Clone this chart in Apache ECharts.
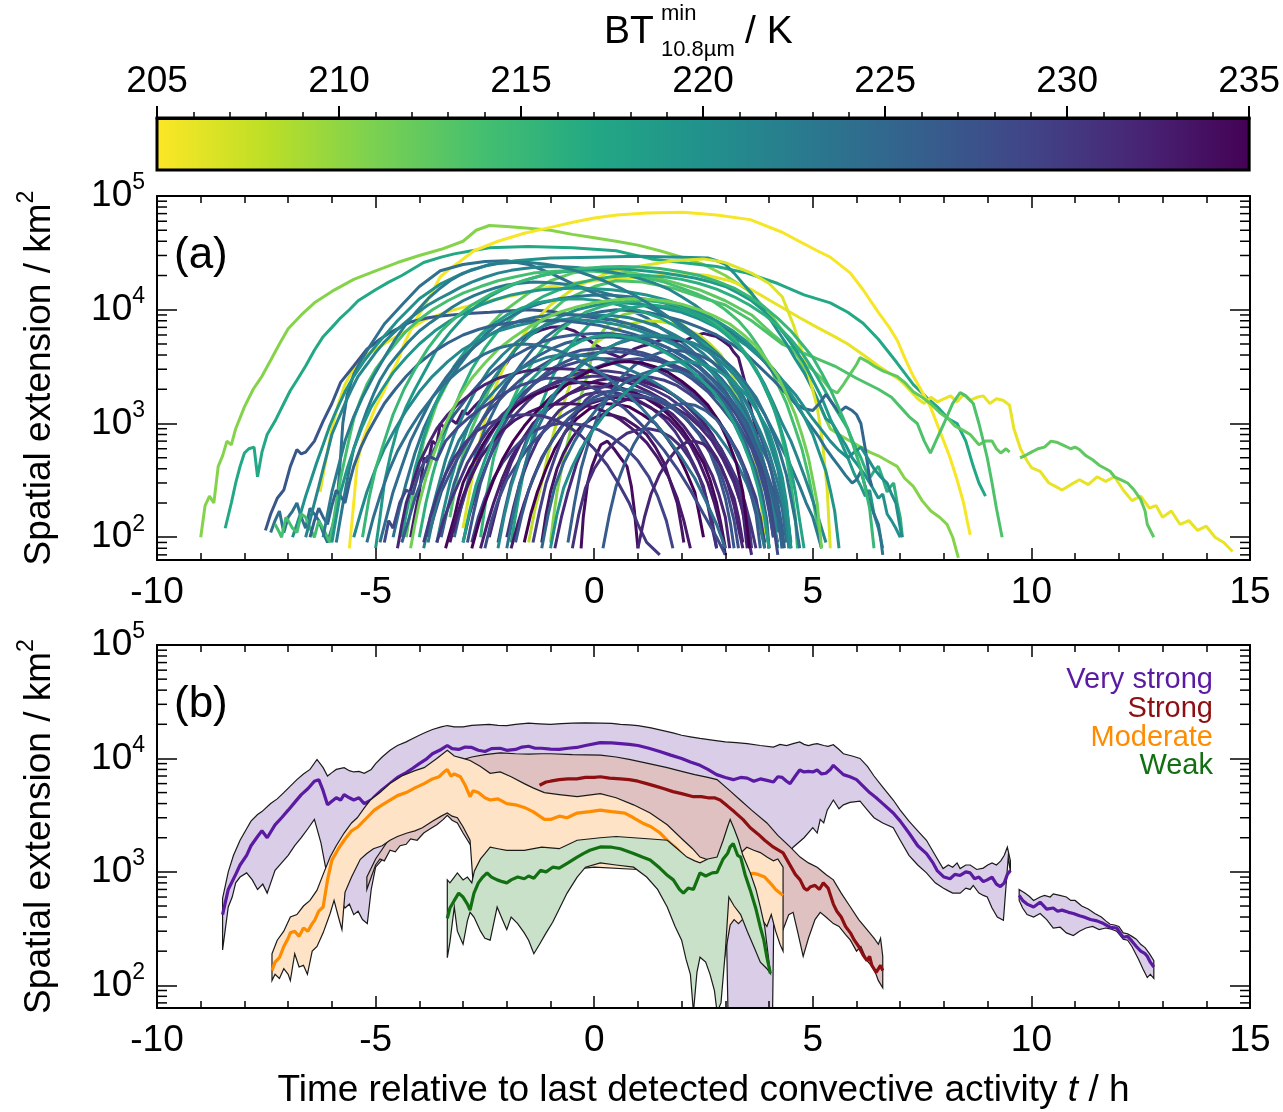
<!DOCTYPE html>
<html><head><meta charset="utf-8">
<script src="https://cdn.jsdelivr.net/npm/echarts@6/dist/echarts.min.js"></script>
<style>html,body{margin:0;padding:0;background:#fff}#chart{width:1283px;height:1112px}</style>
</head><body><div id="chart"></div>
<script>
// ---------------- DATA ----------------
const btTicks = [205, 210, 215, 220, 225, 230, 235];
const timeTicks = [-10, -5, 0, 5, 10, 15];
const areaMin = 63.0957, areaMax = 100000;

// Panel (a): brightness temperature of each track and its time series [t (h), area (km^2)]
const tracksBT = [210.5,217,205.3,206,212.5,213.5,227,224,220,233,206.5,208,210.5,214,221.5,223,219,216,225,223.5,220.5,218.5,222,215.5,226,224.5,217.5,221,230,232,234,233.5,231,229,228,232.5,235,227.5,230.5,234.5,226.5,229.5,231.5,228.5,233,226,224,225.5,232,219.5,211.5,215,222.5,
  228,233,225,231,223,229,235,227,221.5,226.5,230,218,232,224,220,228.5];
const tracks = [
[[-9.0,100],[-8.9,190],[-8.8,230],[-8.7,200],[-8.6,420],[-8.5,520],[-8.4,700],[-8.3,650],[-8.2,900],[-8.0,1400],[-7.8,2000],[-7.6,2600],[-7.4,3600],[-7.2,5000],[-7.0,6800],[-6.7,9000],[-6.4,11500],[-6.0,14500],[-5.5,18500],[-5.0,22000],[-4.5,26000],[-4.0,30000],[-3.5,34000],[-3.0,40000],[-2.7,50000],[-2.4,55000],[-2.0,54000],[-1.5,52000],[-1.0,50000],[-0.5,46000],[0,43000],[0.5,40000],[1.0,37000],[1.5,33000],[2.0,29000],[2.5,25000],[3.0,20000],[3.5,15000],[4.0,9500],[4.5,5200],[4.8,3000],[5.1,1600],[5.4,900],[5.6,800],[5.8,720],[6.1,620],[6.3,560],[6.5,520],[6.7,470],[6.93,420],[7.1,330],[7.3,280],[7.5,210],[7.7,170],[7.9,150],[8.07,130],[8.2,100],[8.33,66]],
[[-8.44,120],[-8.3,200],[-8.2,300],[-8.1,420],[-8.0,550],[-7.9,600],[-7.78,620],[-7.7,340],[-7.6,560],[-7.48,800],[-7.3,1050],[-7.1,1500],[-6.95,1950],[-6.8,2400],[-6.6,3200],[-6.4,4400],[-6.2,5800],[-6.0,7000],[-5.8,8500],[-5.6,10000],[-5.4,12000],[-5.0,15000],[-4.7,17500],[-4.4,20000],[-3.9,26000],[-3.5,29000],[-3.2,31000],[-2.8,33000],[-2.4,35000],[-1.5,36000],[-0.5,35000],[0.5,33000],[1.3,28000],[2.0,26000],[2.8,24000],[3.5,21000],[4.2,17000],[4.8,13500],[5.4,11500],[5.8,9500],[6.15,7600],[6.5,5500],[6.93,3400],[7.3,2200],[7.6,1700],[7.85,1400],[8.1,1100],[8.3,1000],[8.5,700],[8.67,420],[8.8,300],[8.95,230]],
[[-5.6,80],[-5.5,200],[-5.42,450],[-5.3,700],[-5.2,900],[-5.0,1400],[-4.8,1950],[-4.65,2700],[-4.5,3500],[-4.35,5000],[-4.2,6600],[-4.05,8500],[-3.9,10500],[-3.7,14500],[-3.52,19500],[-3.3,23000],[-3.1,26000],[-2.75,33000],[-2.2,40000],[-1.6,47000],[-1.0,53000],[-0.46,59000],[0.0,64000],[0.52,68000],[1.2,71000],[2.04,72000],[2.8,68000],[3.57,62000],[4.3,48000],[4.8,38000],[5.1,33000],[5.4,29000],[5.86,21000],[6.15,15000],[6.5,9500],[6.75,7000],[6.93,5400],[7.1,3800],[7.3,2600],[7.5,1900],[7.69,1400],[7.9,870],[8.14,500],[8.3,320],[8.45,200],[8.53,140],[8.6,105]],
[[-6.27,250],[-6.15,450],[-6.0,900],[-5.85,1500],[-5.7,2200],[-5.55,2800],[-5.42,3400],[-5.2,4000],[-5.0,4500],[-4.67,5400],[-4.2,6800],[-3.89,8100],[-3.4,9500],[-3.0,10500],[-2.38,12000],[-1.8,13500],[-1.0,16000],[-0.3,17500],[0.5,18500],[1.3,19500],[2.04,21000],[2.6,20000],[3.1,18000],[3.6,15000],[4.2,11000],[4.7,8500],[5.1,7000],[5.5,5800],[5.8,5000],[6.2,3900],[6.5,3200],[6.8,2700],[7.0,2400],[7.2,2000],[7.4,1650],[7.55,1500],[7.7,1700],[7.85,1550],[8.0,1650],[8.15,1750],[8.3,1550],[8.45,1800],[8.6,1600],[8.75,1700],[8.9,1750],[9.05,1500],[9.2,1650],[9.35,1600],[9.5,1450],[9.6,900],[9.75,600],[9.9,470],[10.0,410],[10.2,380],[10.4,300],[10.55,280],[10.7,260],[10.9,290],[11.1,320],[11.3,290],[11.5,340],[11.7,310],[11.9,340],[12.1,260],[12.3,210],[12.5,230],[12.7,180],[12.85,190],[13.0,150],[13.2,170],[13.4,130],[13.6,140],[13.8,115],[14.0,125],[14.2,100],[14.4,90],[14.6,75]],
[[-4.3,100],[-4.1,300],[-3.9,700],[-3.6,1500],[-3.2,3000],[-2.7,5500],[-2.1,9500],[-1.5,14000],[-1.0,18000],[-0.5,21000],[0,22500],[0.6,22000],[1.2,20000],[1.8,17500],[2.4,15000],[3.0,12000],[3.6,9000],[4.1,6000],[4.5,4500],[4.9,3200],[5.2,2500],[5.4,2000],[5.56,1860],[5.7,2200],[5.85,2700],[6.0,3300],[6.08,3800],[6.25,3500],[6.4,3200],[6.6,2900],[6.93,2600],[7.1,2300],[7.3,1900],[7.5,1700],[7.69,1500],[7.9,1250],[8.1,1100],[8.25,950],[8.44,870],[8.6,800],[8.8,650],[8.95,700],[9.1,700],[9.2,600],[9.3,550],[9.42,600],[9.5,560],[9.62,'-'],[9.74,500],[9.85,520],[10.0,560],[10.15,600],[10.3,620],[10.45,700],[10.6,680],[10.75,640],[10.9,600],[11.0,620],[11.1,590],[11.25,520],[11.4,480],[11.55,430],[11.7,400],[11.8,380],[11.9,340],[12.05,320],[12.2,300],[12.35,260],[12.5,215],[12.6,170],[12.65,130],[12.8,100]],
[[-3.3,150],[-3.1,400],[-2.8,900],[-2.4,2000],[-1.9,4000],[-1.3,7500],[-0.7,12000],[0,16000],[0.5,18000],[1.1,17500],[1.8,15500],[2.4,13000],[3.0,11000],[3.6,8000],[4.3,5000],[4.9,4000],[5.5,3200],[6.0,2500],[6.5,2000],[6.8,1700],[7.0,1400],[7.2,1150],[7.39,1000],[7.55,700],[7.69,550],[7.85,750],[8.0,1000],[8.2,1500],[8.37,1870],[8.5,1750],[8.67,1500],[8.8,1000],[8.9,700],[8.99,500],[9.1,300],[9.2,180],[9.33,100]],
[[-7.52,115],[-7.4,160],[-7.25,220],[-7.1,260],[-6.95,420],[-6.8,590],[-6.7,540],[-6.6,560],[-6.4,700],[-6.2,1050],[-6.0,1500],[-5.8,2300],[-5.5,3200],[-5.2,4500],[-4.9,5500],[-4.67,6300],[-4.2,7800],[-3.8,8500],[-3.5,8800],[-3.0,9200],[-2.38,9500],[-1.9,9800],[-1.5,10000],[-1.0,9700],[-0.5,9000],[0,8500],[0.5,8000],[1.0,7000],[1.5,6000],[2.0,4800],[2.5,3500],[2.9,2500],[3.2,1800],[3.5,1100],[3.7,700],[3.9,420],[4.1,250],[4.2,150],[4.3,90]],
[[-7.4,110],[-7.3,140],[-7.2,170],[-7.1,110],[-7.0,150],[-6.9,170],[-6.8,200],[-6.7,150],[-6.6,120],[-6.5,180],[-6.4,160],[-6.3,140],[-6.2,110],[-6.1,90],[-6.0,120],[-5.9,160],[-5.82,400],[-5.75,1000],[-5.65,1800],[-5.5,2700],[-5.35,3500],[-5.1,5000],[-4.8,7500],[-4.4,11000],[-4.0,16000],[-3.52,22000],[-3.0,25000],[-2.5,26500],[-2.0,27000],[-1.5,25000],[-1.0,21000],[-0.5,17000],[0,14000],[0.4,12000],[0.8,10000],[1.2,8500],[1.5,7000],[1.9,5600],[2.2,4500],[2.5,3500],[2.8,2500],[3.05,1800],[3.3,1200],[3.5,800],[3.7,500],[3.85,320],[4.0,200],[4.1,130],[4.2,90]],
[[-6.9,100],[-6.8,130],[-6.7,170],[-6.6,230],[-6.5,300],[-6.35,450],[-6.2,650],[-6.05,950],[-5.9,1300],[-5.7,1900],[-5.5,2600],[-5.25,3600],[-5.0,4800],[-4.5,8000],[-4.0,12500],[-3.5,17000],[-3.0,21000],[-2.4,25000],[-1.8,27000],[-1.0,28500],[0,29000],[1.0,29500],[2.0,29000],[2.6,28500],[2.8,27000],[3.0,25000],[3.2,21000],[3.4,17000],[3.6,14000],[3.8,11000],[4.0,8500],[4.2,6500],[4.4,5000],[4.6,3700],[4.8,2800],[5.0,2000],[5.15,1500],[5.3,1100],[5.45,1000],[5.6,800],[5.75,650],[5.9,500],[6.05,420],[6.2,350],[6.35,280],[6.5,220],[6.6,240],[6.7,160],[6.8,140],[6.9,120],[7.0,100]],
[[-4.2,100],[-4.1,160],[-4.0,250],[-3.89,500],[-3.8,450],[-3.7,700],[-3.6,650],[-3.52,1000],[-3.4,900],[-3.3,1100],[-3.15,1000],[-3.0,1300],[-2.9,1200],[-2.75,1400],[-2.6,1600],[-2.5,1900],[-2.35,2300],[-2.2,2800],[-2.0,3400],[-1.8,4500],[-1.6,5500],[-1.4,6200],[-1.23,6600],[-1.0,7000],[-0.8,7100],[-0.6,6800],[-0.45,6500],[-0.3,6000],[-0.15,5500],[0,5000],[0.15,4600],[0.3,4200],[0.45,4000],[0.6,3800],[0.75,4100],[0.9,4500],[1.1,4800],[1.3,5000],[1.5,5400],[1.7,5600],[1.9,5300],[2.1,5400],[2.3,5900],[2.5,6200],[2.65,6000],[2.8,5800],[2.95,5300],[3.1,4800],[3.2,4200],[3.3,3800],[3.45,2300],[3.57,1400],[3.7,900],[3.8,500],[3.9,300],[4.0,180],[4.1,100]],
[[-3.0,120],[-2.85,250],[-2.7,500],[-2.55,900],[-2.4,1500],[-2.2,2400],[-2.0,3500],[-1.75,5000],[-1.5,7000],[-1.0,11000],[-0.4,16000],[0.3,21000],[1.0,24000],[1.8,27000],[2.5,28000],[3.0,26000],[3.6,21000],[4.0,17000],[4.3,13000],[4.55,7500],[4.8,3800],[4.95,2300],[5.1,1400],[5.22,700],[5.33,260],[5.4,80]],
[[-1.5,90],[-1.35,180],[-1.2,300],[-1.05,550],[-0.9,900],[-0.7,1500],[-0.5,2500],[-0.25,3600],[0,5000],[0.3,6000],[0.6,7000],[0.9,7600],[1.2,8000],[1.5,7900],[1.8,7500],[2.1,6800],[2.4,6000],[2.65,5000],[2.9,4000],[3.1,3000],[3.3,2000],[3.45,1200],[3.6,700],[3.7,400],[3.8,250],[3.9,90]],
[[-1.0,90],[-0.92,160],[-0.85,250],[-0.72,450],[-0.6,700],[-0.45,1200],[-0.25,2000],[-0.1,3200],[0,5000],[0.2,6500],[0.4,8000],[0.65,9000],[0.9,9500],[1.2,9400],[1.5,9000],[1.75,8300],[2.0,7500],[2.25,6200],[2.5,5000],[2.75,3800],[3.0,2800],[3.2,1900],[3.4,1300],[3.55,850],[3.7,500],[3.8,300],[3.9,150],[4.0,80]],
[[-7.3,130],[-7.2,110],[-7.15,100],[-7.05,150],[-7.0,140],[-6.9,120],[-6.8,110],[-6.7,160],[-6.6,150],[-6.5,120],[-6.4,100],[-6.3,140],[-6.2,120],[-6.05,90],[-5.95,150],[-5.9,200],[-5.8,330],[-5.7,500],[-5.6,750],[-5.5,1100],[-5.35,1600],[-5.2,2200],[-5.0,3000],[-4.8,3800],[-4.55,5000],[-4.3,6500],[-4.0,8200],[-3.7,10000],[-3.35,12000],[-3.0,14000],[-2.6,16000],[-2.2,18000],[-1.8,19500],[-1.4,21000],[-0.9,21800],[-0.5,22000],[0,21800],[0.4,21000],[0.8,20000],[1.2,19000],[1.6,17500],[2.0,15500],[2.35,13800],[2.7,12000],[3.0,10000],[3.3,8000],[3.55,6200],[3.8,4500],[4.0,3300],[4.2,2200],[4.4,1500],[4.6,900],[4.75,600],[4.9,350],[5.0,220],[5.1,130],[5.2,80]],
[[-6.6,100],[-6.5,140],[-6.4,200],[-6.3,280],[-6.2,400],[-6.1,560],[-6.0,800],[-5.85,1100],[-5.7,1500],[-5.55,2000],[-5.4,2600],[-5.2,3300],[-5.0,4200],[-4.8,5200],[-4.6,6200],[-4.4,7300],[-4.2,8500],[-4.0,9700],[-3.8,11000],[-3.55,12500],[-3.3,14000],[-3.05,15800],[-2.8,17500],[-2.5,19300],[-2.2,21000],[-1.9,22200],[-1.6,23000],[-1.3,23700],[-1.0,24000],[-0.7,23900],[-0.4,23500],[-0.1,22800],[0.2,22000],[0.5,21000],[0.8,20000],[1.1,18500],[1.4,17000],[1.7,15200],[2.0,13000],[2.3,11000],[2.6,9000],[2.9,7200],[3.2,5500],[3.45,4200],[3.7,3000],[3.9,2200],[4.1,1500],[4.3,1000],[4.5,700],[4.65,500],[4.8,350],[4.95,240],[5.1,160],[5.2,120],[5.3,90]],
[[-5.9,90],[-5.8,150],[-5.7,250],[-5.6,400],[-5.5,600],[-5.35,900],[-5.2,1300],[-5.05,1800],[-4.9,2400],[-4.7,3200],[-4.5,4000],[-4.25,5200],[-4.0,6500],[-3.75,7700],[-3.5,9000],[-3.25,10500],[-3.0,12000],[-2.75,13300],[-2.5,14500],[-2.25,15600],[-2.0,16500],[-1.7,17100],[-1.4,17500],[-1.1,17400],[-0.8,17000],[-0.5,16400],[-0.2,15500],[0.1,14500],[0.4,13500],[0.7,12500],[1.0,11500],[1.3,10300],[1.6,9000],[1.9,7800],[2.2,6500],[2.5,5300],[2.8,4200],[3.1,3200],[3.4,2400],[3.65,1700],[3.9,1200],[4.1,850],[4.3,600],[4.5,420],[4.7,280],[4.85,200],[5.0,150],[5.1,110],[5.2,80]],
[[-5.0,80],[-4.9,150],[-4.8,300],[-4.65,550],[-4.5,900],[-4.3,1400],[-4.1,2000],[-3.85,3000],[-3.6,4500],[-3.3,6300],[-3.0,8500],[-2.7,10700],[-2.4,13000],[-2.1,15000],[-1.8,17000],[-1.5,18600],[-1.2,20000],[-0.85,21200],[-0.5,22000],[-0.15,22600],[0.2,23000],[0.55,22900],[0.9,22500],[1.25,21800],[1.6,21000],[1.95,20000],[2.3,19000],[2.65,17600],[3.0,16000],[3.3,14000],[3.6,12000],[3.85,10000],[4.1,8000],[4.35,6100],[4.6,4500],[4.8,3400],[5.0,2400],[5.2,1700],[5.4,1100],[5.6,750],[5.8,500],[5.95,360],[6.1,280],[6.2,230],[6.3,260],[6.4,160],[6.5,120],[6.6,80]],
[[-4.0,100],[-3.85,200],[-3.7,350],[-3.5,650],[-3.3,1100],[-3.05,1900],[-2.8,3000],[-2.5,4600],[-2.2,6500],[-1.85,8700],[-1.5,11000],[-1.15,13200],[-0.8,15000],[-0.4,17000],[0,18500],[0.4,19500],[0.8,20000],[1.2,20000],[1.6,19500],[2.0,18500],[2.4,17000],[2.8,15200],[3.2,13000],[3.55,11000],[3.9,9000],[4.2,7200],[4.5,5500],[4.75,4200],[5.0,3000],[5.2,2200],[5.4,1600],[5.6,1200],[5.8,900],[5.95,650],[6.1,500],[6.2,400],[6.3,330],[6.4,380],[6.5,420],[6.6,330],[6.7,250],[6.78,280],[6.85,300],[6.93,200],[7.0,150],[7.05,100]],
[[-3.2,100],[-3.05,180],[-2.9,300],[-2.7,550],[-2.5,900],[-2.25,1400],[-2.0,2200],[-1.7,3200],[-1.4,4500],[-1.1,5800],[-0.8,7000],[-0.5,8000],[-0.2,9000],[0.15,9600],[0.5,10000],[0.85,9800],[1.2,9500],[1.6,8800],[2.0,8000],[2.4,7000],[2.8,6000],[3.15,5000],[3.5,4000],[3.8,3100],[4.1,2400],[4.35,1900],[4.6,1500],[4.8,1350],[5.0,1300],[5.15,1500],[5.3,1800],[5.45,1500],[5.6,1250],[5.75,1400],[5.9,1300],[6.0,1200],[6.1,1000],[6.2,600],[6.3,330],[6.35,280]],
[[-4.6,100],[-4.45,180],[-4.3,300],[-4.1,550],[-3.9,900],[-3.65,1450],[-3.4,2200],[-3.1,3200],[-2.8,4500],[-2.5,6000],[-2.2,7500],[-1.85,9000],[-1.5,10500],[-1.15,11600],[-0.8,12500],[-0.4,13100],[0,13500],[0.4,13400],[0.8,13000],[1.2,12300],[1.6,11500],[2.0,10300],[2.4,9000],[2.75,7700],[3.1,6500],[3.4,5300],[3.7,4200],[3.95,3300],[4.2,2500],[4.4,1950],[4.6,1500],[4.8,1150],[5.0,900],[5.15,750],[5.3,600],[5.45,500],[5.6,420],[5.75,350],[5.9,300],[6.0,320],[6.1,380],[6.2,280],[6.3,200],[6.4,160],[6.5,130],[6.55,100],[6.6,70]],
[[-3.6,90],[-3.45,170],[-3.3,300],[-3.1,550],[-2.9,900],[-2.65,1450],[-2.4,2200],[-2.1,3200],[-1.8,4500],[-1.45,6000],[-1.1,7500],[-0.75,8800],[-0.4,10000],[0,10900],[0.4,11500],[0.8,11400],[1.2,11000],[1.6,10300],[2.0,9500],[2.4,8300],[2.8,7000],[3.15,5900],[3.5,4800],[3.8,3800],[4.1,3000],[4.35,2300],[4.6,1800],[4.8,1400],[5.0,1100],[5.2,880],[5.4,700],[5.6,580],[5.8,500],[5.95,560],[6.1,620],[6.25,500],[6.4,400],[6.55,340],[6.7,300],[6.8,240],[6.9,200],[6.97,140],[7.04,100]],
[[-4.4,100],[-4.25,200],[-4.1,400],[-3.9,750],[-3.7,1300],[-3.45,2100],[-3.2,3200],[-2.9,4600],[-2.6,6000],[-2.3,7500],[-2.0,9000],[-1.65,10400],[-1.3,11500],[-0.95,12100],[-0.6,12500],[-0.25,12400],[0.1,12000],[0.45,11300],[0.8,10500],[1.15,9500],[1.5,8500],[1.85,7200],[2.2,6000],[2.55,4900],[2.9,3800],[3.2,2800],[3.5,2000],[3.7,1400],[3.9,900],[4.05,600],[4.2,400],[4.3,270],[4.4,180],[4.5,90]],
[[-3.9,80],[-3.75,150],[-3.6,250],[-3.4,480],[-3.2,800],[-2.95,1300],[-2.7,2000],[-2.4,3000],[-2.1,4000],[-1.8,5100],[-1.5,6200],[-1.15,7200],[-0.8,8000],[-0.4,8600],[0,9000],[0.4,8900],[0.8,8500],[1.15,7800],[1.5,7000],[1.85,6000],[2.2,5000],[2.5,4100],[2.8,3200],[3.05,2500],[3.3,1800],[3.5,1250],[3.7,800],[3.85,500],[4.0,300],[4.1,180],[4.2,110]],
[[-2.6,100],[-2.45,250],[-2.3,500],[-2.1,900],[-1.9,1500],[-1.65,2400],[-1.4,3500],[-1.1,5000],[-0.8,6500],[-0.5,8000],[-0.2,9500],[0.15,10600],[0.5,11500],[0.85,11900],[1.2,12000],[1.55,11700],[1.9,11000],[2.25,9900],[2.6,8500],[2.9,7000],[3.2,5500],[3.45,4200],[3.7,3000],[3.9,2100],[4.1,1400],[4.25,900],[4.4,500],[4.5,300],[4.6,150],[4.65,80]],
[[-3.5,100],[-3.35,180],[-3.2,300],[-3.0,480],[-2.8,700],[-2.55,1100],[-2.3,1600],[-2.0,2300],[-1.7,3000],[-1.35,3800],[-1.0,4500],[-0.65,5100],[-0.3,5500],[0.05,5700],[0.4,5800],[0.75,5600],[1.1,5200],[1.45,4700],[1.8,4000],[2.15,3300],[2.5,2600],[2.8,2000],[3.1,1500],[3.35,1050],[3.6,700],[3.75,480],[3.9,300],[4.0,190],[4.1,120]],
[[-4.9,90],[-4.75,150],[-4.6,250],[-4.4,420],[-4.2,700],[-3.95,1100],[-3.7,1700],[-3.4,2500],[-3.1,3500],[-2.75,4700],[-2.4,6000],[-2.05,7100],[-1.7,8000],[-1.35,8600],[-1.0,9000],[-0.65,9100],[-0.3,9000],[0.05,8700],[0.4,8200],[0.75,7600],[1.1,7000],[1.45,6100],[1.8,5200],[2.15,4300],[2.5,3500],[2.8,2700],[3.1,2000],[3.35,1450],[3.6,1000],[3.8,650],[4.0,450],[4.15,280],[4.3,180],[4.4,90]],
[[-1.9,90],[-1.75,200],[-1.6,400],[-1.4,800],[-1.2,1500],[-0.95,2600],[-0.7,4000],[-0.4,5700],[-0.1,7500],[0.25,8800],[0.6,10000],[0.95,10600],[1.3,11000],[1.65,10700],[2.0,10000],[2.35,8900],[2.7,7500],[3.0,6100],[3.3,4800],[3.55,3600],[3.8,2500],[4.0,1700],[4.2,1100],[4.35,700],[4.5,400],[4.6,250],[4.7,140],[4.8,80]],
[[-5.5,100],[-5.35,160],[-5.2,250],[-5.0,400],[-4.8,600],[-4.55,900],[-4.3,1300],[-4.0,1900],[-3.7,2600],[-3.35,3500],[-3.0,4500],[-2.6,5500],[-2.2,6500],[-1.8,7200],[-1.4,7800],[-1.0,8100],[-0.6,8200],[-0.2,8100],[0.2,7800],[0.6,7300],[1.0,6600],[1.4,5800],[1.8,5000],[2.15,4100],[2.5,3300],[2.8,2600],[3.1,1900],[3.35,1350],[3.6,900],[3.75,620],[3.9,400],[4.0,260],[4.1,150],[4.2,80]],
[[-3.0,90],[-2.85,160],[-2.7,250],[-2.5,400],[-2.3,600],[-2.05,900],[-1.8,1200],[-1.5,1600],[-1.2,2000],[-0.9,2300],[-0.6,2600],[-0.3,2800],[0,2900],[0.3,2900],[0.6,2800],[0.9,2600],[1.2,2400],[1.5,2100],[1.8,1800],[2.1,1450],[2.4,1100],[2.65,820],[2.9,600],[3.1,420],[3.3,280],[3.45,180],[3.55,120],[3.6,80]],
[[-2.4,100],[-2.25,170],[-2.1,280],[-1.9,450],[-1.7,650],[-1.45,900],[-1.2,1200],[-0.9,1500],[-0.6,1800],[-0.3,2000],[0,2100],[0.3,2100],[0.6,2000],[0.9,1850],[1.2,1700],[1.5,1450],[1.8,1200],[2.05,950],[2.3,700],[2.5,500],[2.7,350],[2.85,240],[3.0,150],[3.1,80]],
[[-0.3,80],[-0.25,150],[-0.15,300],[-0.05,420],[0.05,530],[0.15,650],[0.3,700],[0.45,600],[0.6,500],[0.75,420],[0.85,280],[0.92,170],[1.0,80]],
[[-1.2,90],[-1.1,160],[-1.0,250],[-0.85,400],[-0.7,550],[-0.5,750],[-0.3,950],[-0.05,1100],[0.2,1200],[0.45,1180],[0.7,1100],[0.95,950],[1.2,800],[1.4,620],[1.6,450],[1.75,300],[1.9,200],[2.0,120],[2.05,90]],
[[-2.0,100],[-1.85,180],[-1.7,300],[-1.5,480],[-1.3,700],[-1.05,1000],[-0.8,1300],[-0.5,1550],[-0.2,1800],[0.1,1880],[0.4,1900],[0.7,1780],[1.0,1600],[1.3,1380],[1.6,1100],[1.85,850],[2.1,600],[2.3,420],[2.5,280],[2.6,190],[2.7,120],[2.8,80]],
[[-3.2,110],[-3.05,180],[-2.9,280],[-2.7,430],[-2.5,650],[-2.25,950],[-2.0,1300],[-1.7,1750],[-1.4,2200],[-1.05,2700],[-0.7,3200],[-0.35,3500],[0,3700],[0.35,3700],[0.7,3600],[1.05,3350],[1.4,3000],[1.7,2600],[2.0,2200],[2.3,1800],[2.6,1400],[2.85,1050],[3.1,750],[3.3,520],[3.5,350],[3.65,230],[3.8,150],[3.9,80]],
[[-3.8,100],[-3.65,160],[-3.5,250],[-3.25,400],[-3.0,600],[-2.7,900],[-2.4,1300],[-2.05,1800],[-1.7,2400],[-1.35,3000],[-1.0,3600],[-0.65,4000],[-0.3,4400],[0.05,4550],[0.4,4600],[0.75,4450],[1.1,4200],[1.45,3800],[1.8,3300],[2.15,2750],[2.5,2200],[2.8,1700],[3.1,1300],[3.35,900],[3.6,600],[3.75,420],[3.9,260],[4.0,170],[4.1,100]],
[[-2.6,80],[-2.45,130],[-2.3,200],[-2.1,330],[-1.9,500],[-1.65,720],[-1.4,1000],[-1.1,1300],[-0.8,1600],[-0.5,1900],[-0.2,2200],[0.1,2400],[0.4,2500],[0.7,2480],[1.0,2400],[1.3,2200],[1.6,2000],[1.9,1700],[2.2,1400],[2.45,1100],[2.7,800],[2.9,580],[3.1,400],[3.25,270],[3.4,170],[3.5,80]],
[[-1.6,90],[-1.45,160],[-1.3,250],[-1.1,400],[-0.9,600],[-0.65,850],[-0.4,1100],[-0.1,1350],[0.2,1500],[0.5,1480],[0.8,1400],[1.1,1200],[1.4,1000],[1.65,760],[1.9,550],[2.1,380],[2.3,250],[2.4,160],[2.5,100]],
[[-2.9,90],[-2.75,170],[-2.6,300],[-2.4,500],[-2.2,800],[-1.9,1250],[-1.6,1800],[-1.3,2400],[-1.0,3000],[-0.65,3500],[-0.3,4000],[0.1,4200],[0.5,4300],[0.85,4150],[1.2,3900],[1.55,3450],[1.9,3000],[2.25,2450],[2.6,1900],[2.9,1400],[3.2,1000],[3.4,700],[3.6,450],[3.75,300],[3.9,160],[4.0,80]],
[[-3.6,90],[-3.45,140],[-3.3,200],[-3.1,300],[-2.9,450],[-2.65,650],[-2.4,900],[-2.1,1200],[-1.8,1500],[-1.45,1800],[-1.1,2100],[-0.75,2350],[-0.4,2500],[-0.05,2600],[0.3,2600],[0.65,2480],[1.0,2300],[1.35,2000],[1.7,1700],[2.0,1400],[2.3,1100],[2.6,850],[2.9,600],[3.1,430],[3.3,300],[3.45,200],[3.6,120],[3.7,80]],
[[-3.4,80],[-3.3,110],[-3.2,150],[-3.1,220],[-3.0,300],[-2.85,400],[-2.7,500],[-2.55,650],[-2.4,800],[-2.2,1000],[-2.0,1200],[-1.75,1450],[-1.5,1700],[-1.2,1900],[-0.9,2100],[-0.6,2250],[-0.3,2300],[0,2280],[0.3,2200],[0.6,2050],[0.9,1900],[1.2,1650],[1.5,1400],[1.75,1150],[2.0,900],[2.25,650],[2.5,450],[2.65,320],[2.8,200],[2.9,130],[3.0,80]],
[[-4.4,90],[-4.25,140],[-4.1,220],[-3.9,350],[-3.7,550],[-3.45,850],[-3.2,1200],[-2.9,1700],[-2.6,2300],[-2.25,3000],[-1.9,3800],[-1.55,4500],[-1.2,5200],[-0.85,5700],[-0.5,6000],[-0.1,6150],[0.3,6200],[0.65,6000],[1.0,5700],[1.35,5200],[1.7,4600],[2.05,3900],[2.4,3200],[2.7,2500],[3.0,1900],[3.25,1400],[3.5,1000],[3.7,650],[3.9,420],[4.05,260],[4.2,150],[4.3,80]],
[[-1.4,90],[-1.25,170],[-1.1,300],[-0.9,500],[-0.7,800],[-0.45,1150],[-0.2,1600],[0.1,2000],[0.4,2300],[0.7,2500],[1.0,2600],[1.3,2550],[1.6,2400],[1.9,2150],[2.2,1800],[2.5,1450],[2.8,1100],[3.05,800],[3.3,550],[3.5,360],[3.7,220],[3.8,140],[3.9,90]],
[[-0.9,80],[-0.75,150],[-0.6,250],[-0.4,450],[-0.2,700],[0.05,1000],[0.3,1300],[0.6,1550],[0.9,1700],[1.2,1680],[1.5,1600],[1.8,1420],[2.1,1200],[2.4,950],[2.7,700],[2.95,480],[3.2,300],[3.35,200],[3.5,110],[3.6,70]],
[[-2.2,90],[-2.05,170],[-1.9,300],[-1.7,500],[-1.5,800],[-1.25,1150],[-1.0,1600],[-0.7,2100],[-0.4,2600],[-0.05,3000],[0.3,3400],[0.65,3600],[1.0,3700],[1.35,3600],[1.7,3400],[2.05,3000],[2.4,2600],[2.7,2100],[3.0,1600],[3.25,1200],[3.5,800],[3.7,550],[3.9,330],[4.0,220],[4.1,130],[4.2,70]],
[[-1.9,80],[-1.75,130],[-1.6,200],[-1.4,330],[-1.2,500],[-0.95,720],[-0.7,1000],[-0.4,1250],[-0.1,1500],[0.2,1620],[0.5,1700],[0.8,1620],[1.1,1500],[1.4,1300],[1.7,1100],[1.95,870],[2.2,650],[2.4,460],[2.6,300],[2.75,200],[2.9,120],[3.0,70]],
[[-0.6,90],[-0.45,200],[-0.3,400],[-0.1,750],[0.1,1200],[0.35,1800],[0.6,2500],[0.9,3200],[1.2,3800],[1.5,4200],[1.8,4400],[2.1,4300],[2.4,4000],[2.7,3500],[3.0,2800],[3.25,2200],[3.5,1500],[3.7,1000],[3.9,600],[4.05,380],[4.2,200],[4.3,120],[4.35,80]],
[[-2.0,80],[-1.85,160],[-1.7,300],[-1.5,550],[-1.3,900],[-1.05,1400],[-0.8,2000],[-0.5,2800],[-0.2,3600],[0.15,4300],[0.5,5000],[0.85,5500],[1.2,5800],[1.55,5800],[1.9,5600],[2.25,5100],[2.6,4500],[2.9,3800],[3.2,3000],[3.45,2300],[3.7,1700],[3.9,1200],[4.1,800],[4.25,550],[4.4,350],[4.5,220],[4.6,140],[4.7,80]],
[[-6.5,100],[-6.4,140],[-6.3,180],[-6.2,150],[-6.1,130],[-6.0,190],[-5.9,260],[-5.8,230],[-5.7,200],[-5.6,300],[-5.5,420],[-5.35,600],[-5.2,800],[-5.0,1100],[-4.8,1500],[-4.55,2000],[-4.3,2600],[-4.0,3400],[-3.7,4200],[-3.35,5100],[-3.0,6000],[-2.65,6700],[-2.3,7300],[-1.9,7700],[-1.5,8000],[-1.1,8100],[-0.7,8000],[-0.3,7700],[0.1,7300],[0.5,6700],[0.9,6100],[1.3,5400],[1.7,4600],[2.05,3800],[2.4,3100],[2.7,2400],[3.0,1800],[3.25,1300],[3.5,900],[3.7,620],[3.9,400],[4.05,260],[4.2,170],[4.3,80]],
[[-4.5,80],[-4.4,130],[-4.3,200],[-4.15,300],[-4.0,450],[-3.8,650],[-3.6,900],[-3.35,1200],[-3.1,1500],[-2.8,1850],[-2.5,2200],[-2.2,2500],[-1.9,2700],[-1.55,2900],[-1.2,3000],[-0.85,3050],[-0.5,3000],[-0.15,2900],[0.2,2700],[0.55,2450],[0.9,2200],[1.25,1900],[1.6,1600],[1.9,1300],[2.2,1000],[2.5,750],[2.8,500],[3.0,340],[3.2,220],[3.3,150],[3.4,90]],
[[-6.0,90],[-5.9,150],[-5.8,250],[-5.65,400],[-5.5,600],[-5.3,950],[-5.1,1400],[-4.85,2000],[-4.6,2800],[-4.3,3800],[-4.0,5000],[-3.65,6500],[-3.3,8000],[-2.95,9500],[-2.6,11000],[-2.25,12300],[-1.9,13500],[-1.55,14300],[-1.2,15000],[-0.8,15300],[-0.4,15500],[0,15300],[0.4,15000],[0.8,14300],[1.2,13500],[1.6,12300],[2.0,11000],[2.4,9500],[2.8,8000],[3.15,6600],[3.5,5200],[3.8,4000],[4.1,3000],[4.35,2200],[4.6,1600],[4.8,1150],[5.0,800],[5.15,550],[5.3,380],[5.4,260],[5.5,170],[5.6,80]],
[[-4.2,80],[-4.1,130],[-4.0,200],[-3.85,330],[-3.7,500],[-3.5,800],[-3.3,1200],[-3.05,1800],[-2.8,2500],[-2.5,3400],[-2.2,4500],[-1.85,5700],[-1.5,7000],[-1.15,8300],[-0.8,9500],[-0.4,10600],[0,11500],[0.4,12100],[0.8,12500],[1.2,12400],[1.6,12000],[2.0,11200],[2.4,10000],[2.75,8800],[3.1,7500],[3.4,6100],[3.7,4800],[3.95,3600],[4.2,2600],[4.4,1800],[4.6,1200],[4.75,800],[4.9,500],[5.0,320],[5.1,200],[5.2,80]],
[[-5.3,100],[-5.15,220],[-5.0,400],[-4.8,700],[-4.6,1200],[-4.35,2000],[-4.1,3000],[-3.8,4600],[-3.5,6500],[-3.15,8700],[-2.8,11000],[-2.4,13500],[-2.0,16000],[-1.6,18100],[-1.2,20000],[-0.75,21700],[-0.3,23000],[0.15,23700],[0.6,24000],[1.05,23700],[1.5,23000],[1.95,21700],[2.4,20000],[2.8,17800],[3.2,15500],[3.55,13000],[3.9,10500],[4.2,8400],[4.5,6500],[4.75,5000],[5.0,3800],[5.2,2800],[5.4,2000],[5.6,1350],[5.8,900],[5.95,600],[6.1,400],[6.2,270],[6.3,180],[6.4,80]],
[[-6.2,100],[-6.1,160],[-6.0,250],[-5.85,420],[-5.7,700],[-5.5,1150],[-5.3,1700],[-5.05,2600],[-4.8,3800],[-4.55,5500],[-4.3,7500],[-4.05,9800],[-3.8,12500],[-3.55,15200],[-3.3,18000],[-3.05,20400],[-2.8,22500],[-2.5,24200],[-2.2,25500],[-1.85,26000],[-1.5,26000],[-1.15,25200],[-0.8,24000],[-0.45,22200],[-0.1,20000],[0.25,17800],[0.6,15500],[0.95,13200],[1.3,11000],[1.65,8900],[2.0,7000],[2.35,5400],[2.7,4000],[3.0,2900],[3.3,2000],[3.55,1350],[3.8,850],[4.0,550],[4.2,300],[4.35,180],[4.45,120],[4.5,80]],
[[-2.5,80],[-2.35,140],[-2.2,210],[-2.0,320],[-1.75,450],[-1.5,620],[-1.2,820],[-0.9,1050],[-0.6,1250],[-0.3,1450],[0,1600],[0.3,1700],[0.6,1800],[0.9,1780],[1.2,1700],[1.5,1550],[1.8,1350],[2.1,1100],[2.4,820],[2.65,560],[2.9,360],[3.05,240],[3.2,140],[3.3,80]],
[[-3.3,90],[-3.15,150],[-3.0,230],[-2.8,350],[-2.6,500],[-2.35,680],[-2.1,870],[-1.8,1080],[-1.5,1250],[-1.2,1400],[-0.9,1480],[-0.6,1500],[-0.3,1470],[0,1380],[0.3,1250],[0.6,1080],[0.9,880],[1.2,680],[1.45,500],[1.7,340],[1.9,220],[2.05,140],[2.2,80]],
[[-1.2,80],[-1.05,160],[-0.9,280],[-0.7,450],[-0.45,700],[-0.2,1000],[0.1,1400],[0.4,1850],[0.7,2300],[1.0,2650],[1.3,2900],[1.6,3000],[1.9,2900],[2.2,2650],[2.5,2300],[2.8,1850],[3.05,1400],[3.3,950],[3.5,620],[3.7,380],[3.85,230],[3.95,140],[4.0,80]],
[[-0.5,80],[-0.35,160],[-0.2,270],[0,400],[0.25,560],[0.5,700],[0.75,820],[1.0,880],[1.25,900],[1.5,860],[1.75,760],[2.0,620],[2.2,480],[2.4,340],[2.55,230],[2.7,140],[2.8,80]],
[[-3.8,90],[-3.65,170],[-3.5,280],[-3.3,460],[-3.1,700],[-2.85,1000],[-2.6,1400],[-2.3,1900],[-2.0,2500],[-1.7,3000],[-1.4,3450],[-1.1,3800],[-0.8,4000],[-0.5,4050],[-0.2,3950],[0.1,3750],[0.4,3450],[0.7,3100],[1.0,2750],[1.3,2400],[1.6,2050],[1.9,1700],[2.2,1400],[2.5,1100],[2.8,820],[3.05,600],[3.3,420],[3.5,290],[3.7,180],[3.8,120],[3.9,80]],
[[-2.8,90],[-2.65,150],[-2.5,220],[-2.3,330],[-2.1,450],[-1.85,600],[-1.6,750],[-1.35,870],[-1.1,950],[-0.8,1000],[-0.5,1000],[-0.2,960],[0.1,880],[0.4,760],[0.7,620],[1.0,470],[1.25,340],[1.45,230],[1.65,140],[1.8,80]],
[[-2.8,80],[-2.65,130],[-2.5,200],[-2.3,320],[-2.1,480],[-1.85,700],[-1.6,950],[-1.3,1300],[-1.0,1700],[-0.7,2100],[-0.4,2500],[-0.1,2900],[0.2,3200],[0.5,3450],[0.8,3500],[1.1,3400],[1.4,3150],[1.7,2800],[2.0,2350],[2.3,1900],[2.6,1450],[2.85,1050],[3.05,720],[3.25,450],[3.4,250],[3.5,120],[3.55,80]],
[[-1.8,90],[-1.65,160],[-1.5,260],[-1.3,400],[-1.1,580],[-0.85,820],[-0.6,1100],[-0.3,1400],[0,1700],[0.3,1900],[0.6,2000],[0.9,1980],[1.2,1850],[1.5,1650],[1.8,1400],[2.1,1100],[2.4,800],[2.65,550],[2.85,350],[3.0,220],[3.12,130],[3.2,80]],
[[-2.2,80],[-2.05,160],[-1.9,280],[-1.7,480],[-1.5,750],[-1.25,1150],[-1.0,1650],[-0.7,2300],[-0.4,3000],[-0.1,3700],[0.2,4400],[0.5,5000],[0.8,5600],[1.1,5900],[1.4,6000],[1.7,5850],[2.0,5500],[2.3,5000],[2.6,4300],[2.9,3500],[3.2,2700],[3.45,2000],[3.7,1400],[3.9,950],[4.05,650],[4.2,400],[4.3,240],[4.4,130],[4.45,80]],
[[0.2,80],[0.35,160],[0.5,280],[0.7,450],[0.9,650],[1.1,870],[1.3,1080],[1.55,1300],[1.8,1450],[2.05,1500],[2.3,1450],[2.55,1300],[2.8,1080],[3.0,850],[3.2,620],[3.4,420],[3.55,270],[3.7,160],[3.8,80]],
[[-3.9,90],[-3.75,150],[-3.6,230],[-3.4,360],[-3.2,500],[-2.95,680],[-2.7,850],[-2.4,1000],[-2.1,1120],[-1.8,1180],[-1.5,1200],[-1.2,1170],[-0.9,1080],[-0.6,950],[-0.3,780],[0,600],[0.3,430],[0.55,300],[0.8,200],[1.0,130],[1.2,90],[1.5,70]],
[[-3.0,90],[-2.85,170],[-2.7,290],[-2.5,480],[-2.3,750],[-2.05,1150],[-1.8,1650],[-1.5,2300],[-1.2,3000],[-0.9,3800],[-0.6,4600],[-0.3,5300],[0,5800],[0.3,6000],[0.6,5900],[0.9,5600],[1.2,5100],[1.5,4500],[1.8,3850],[2.1,3200],[2.4,2550],[2.7,1950],[2.95,1450],[3.2,1000],[3.4,680],[3.6,430],[3.75,270],[3.9,150],[4.0,80]],
[[1.0,80],[1.15,150],[1.3,240],[1.5,360],[1.7,480],[1.9,600],[2.1,680],[2.3,700],[2.5,660],[2.7,560],[2.9,420],[3.05,300],[3.2,190],[3.3,120],[3.4,80]],
[[-5.2,90],[-5.05,150],[-4.9,230],[-4.7,380],[-4.5,570],[-4.25,850],[-4.0,1200],[-3.7,1700],[-3.4,2300],[-3.1,2900],[-2.8,3500],[-2.5,4100],[-2.2,4600],[-1.9,4900],[-1.6,5000],[-1.3,4900],[-1.0,4600],[-0.7,4200],[-0.4,3700],[-0.1,3200],[0.2,2700],[0.5,2200],[0.8,1750],[1.1,1350],[1.4,1000],[1.7,720],[2.0,500],[2.3,330],[2.55,210],[2.8,130],[3.0,80]],
[[-1.0,80],[-0.85,160],[-0.7,270],[-0.5,420],[-0.3,600],[-0.05,850],[0.2,1150],[0.5,1550],[0.8,2000],[1.1,2500],[1.4,3000],[1.7,3400],[2.0,3500],[2.3,3450],[2.6,3200],[2.9,2800],[3.2,2300],[3.5,1750],[3.75,1250],[4.0,850],[4.15,560],[4.3,340],[4.4,200],[4.5,80]],
[[-4.8,90],[-4.7,140],[-4.6,120],[-4.45,200],[-4.3,260],[-4.15,240],[-4.0,380],[-3.8,520],[-3.6,480],[-3.4,700],[-3.15,900],[-2.9,1100],[-2.6,1350],[-2.3,1600],[-2.0,1900],[-1.7,2150],[-1.4,2350],[-1.1,2500],[-0.8,2500],[-0.5,2400],[-0.2,2200],[0.1,1950],[0.4,1650],[0.7,1350],[1.0,1050],[1.3,800],[1.6,580],[1.9,400],[2.2,260],[2.5,160],[2.8,100],[3.0,70]]
];

// Panel (b): medians and ranges per category
const vsMedian = [[-8.5,420],[-8.37,700],[-8.2,950],[-8.1,1150],[-7.95,1400],[-7.85,1700],[-7.7,2050],[-7.6,2300],[-7.48,2000],[-7.3,2600],[-7.15,3000],[-7.0,3500],[-6.85,4100],[-6.7,4800],[-6.55,5400],[-6.4,6300],[-6.3,6500],[-6.2,5200],[-6.1,3900],[-6.0,4200],[-5.9,4500],[-5.8,4300],[-5.72,4800],[-5.6,4500],[-5.5,4300],[-5.38,4500],[-5.26,4000],[-5.1,4300],[-5.0,4700],[-4.85,5300],[-4.67,6000],[-4.5,6800],[-4.3,7500],[-4.15,8200],[-4.0,9000],[-3.85,9800],[-3.7,11000],[-3.5,12000],[-3.36,13000],[-3.25,12200],[-3.1,12000],[-2.95,12600],[-2.8,12500],[-2.65,11800],[-2.5,11500],[-2.35,12200],[-2.15,12300],[-2.0,11800],[-1.8,12000],[-1.65,12600],[-1.5,12800],[-1.35,12300],[-1.2,12300],[-1.0,12100],[-0.8,12000],[-0.6,12300],[-0.4,12500],[-0.2,13000],[0.14,13800],[0.4,13700],[0.6,13500],[0.8,13300],[1.0,13000],[1.25,12300],[1.5,11500],[1.75,10700],[2.0,10000],[2.2,9300],[2.42,8700],[2.6,8000],[2.8,7200],[3.0,6800],[3.18,6500],[3.35,6800],[3.5,6700],[3.65,6300],[3.8,6600],[3.95,6400],[4.1,6200],[4.2,6900],[4.3,6800],[4.4,6300],[4.48,6000],[4.6,7000],[4.7,7900],[4.8,7600],[4.9,7700],[5.0,7600],[5.1,7900],[5.2,7300],[5.3,7400],[5.4,8000],[5.47,8700],[5.6,7800],[5.7,7200],[5.85,6900],[6.0,6500],[6.15,5700],[6.3,5000],[6.45,4500],[6.6,4000],[6.84,3300],[7.0,2800],[7.2,2200],[7.4,1700],[7.6,1450],[7.75,1200],[7.85,1020],[8.0,900],[8.14,870],[8.25,950],[8.37,930],[8.5,1000],[8.6,980],[8.7,870],[8.8,900],[8.9,820],[8.99,850],[9.1,900],[9.2,780],[9.29,740],[9.38,800],[9.45,950],[9.52,1030],[9.62,'-'],[9.72,620],[9.8,560],[9.9,520],[10.05,490],[10.2,540],[10.35,470],[10.5,480],[10.6,450],[10.7,460],[10.85,440],[10.96,430],[11.1,410],[11.2,400],[11.35,380],[11.5,370],[11.65,350],[11.8,325],[11.95,320],[12.1,265],[12.2,270],[12.3,245],[12.4,220],[12.5,200],[12.6,190],[12.65,180],[12.72,160],[12.8,145]];
const vsUpper1 = [[-8.5,585],[-8.37,1000],[-8.25,1400],[-8.1,1900],[-7.95,2400],[-7.85,2800],[-7.7,3200],[-7.6,3400],[-7.4,4000],[-7.25,4400],[-7.1,5000],[-6.95,5700],[-6.8,6500],[-6.65,7300],[-6.5,8000],[-6.34,9800],[-6.2,8300],[-6.1,7000],[-6.0,7500],[-5.9,8000],[-5.72,8300],[-5.6,7800],[-5.5,7600],[-5.38,7700],[-5.26,7400],[-5.1,8000],[-5.0,9000],[-4.85,10300],[-4.67,11800],[-4.5,13000],[-4.3,14000],[-4.15,15000],[-4.0,16000],[-3.85,17000],[-3.7,18000],[-3.5,19000],[-3.36,19500],[-3.2,19000],[-3.0,19000],[-2.8,19600],[-2.6,19800],[-2.4,20000],[-2.2,19600],[-2.0,19500],[-1.8,20000],[-1.5,20500],[-1.25,20200],[-1.0,20000],[-0.75,20300],[-0.5,20500],[-0.2,20600],[0.14,20500],[0.4,20400],[0.6,20000],[0.8,19800],[1.0,19500],[1.3,18600],[1.6,17500],[1.8,16800],[2.0,16000],[2.2,15500],[2.42,15000],[2.7,14500],[3.0,14000],[3.25,13800],[3.5,13500],[3.8,13000],[4.1,12600],[4.25,13300],[4.4,13000],[4.55,13500],[4.7,14000],[4.8,13300],[4.9,13000],[5.0,13300],[5.1,13500],[5.25,13000],[5.35,12800],[5.47,13200],[5.6,12000],[5.7,11000],[5.9,10500],[6.08,10000],[6.25,8500],[6.4,7000],[6.6,5600],[6.84,4300],[7.0,3500],[7.2,2800],[7.4,2300],[7.6,1900],[7.8,1400],[7.98,1070],[8.1,1150],[8.2,1100],[8.3,1200],[8.37,1070],[8.5,1150],[8.6,1150],[8.75,1050],[8.9,1080],[9.0,1150],[9.1,1200],[9.2,1150],[9.3,1250],[9.38,1400],[9.45,1650],[9.52,1250]];
const vsLower1 = [[-8.5,205],[-8.37,490],[-8.28,600],[-8.2,800],[-8.1,900],[-7.95,980],[-7.82,850],[-7.7,700],[-7.58,780],[-7.48,650],[-7.3,1030],[-7.15,1200],[-7.0,1400],[-6.85,1700],[-6.7,2000],[-6.55,2400],[-6.4,2900],[-6.25,1800],[-6.1,890],[-6.0,750],[-5.9,650],[-5.8,560],[-5.7,480],[-5.6,520],[-5.5,420],[-5.4,450],[-5.3,380],[-5.19,350],[-5.1,700],[-5.0,1100],[-4.8,1350],[-4.67,1700],[-4.2,2100],[-3.7,2700],[-3.36,3400],[-3.0,3000],[-2.8,2600],[-2.5,2400],[-2.0,2500],[-1.0,2300],[0,2400],[1.0,2300],[1.67,2000],[2.04,1500],[2.42,1200],[2.8,1100],[3.0,1000],[3.06,58],[4.08,58],[4.12,900],[4.3,1200],[4.55,1650],[4.8,2000],[5.0,2450],[5.1,2200],[5.17,2900],[5.25,2700],[5.33,3500],[5.47,4300],[5.6,3600],[5.7,3900],[5.85,4100],[6.08,4200],[6.25,3500],[6.4,3000],[6.6,2700],[6.84,2450],[7.0,1900],[7.2,1400],[7.4,1150],[7.6,980],[7.8,800],[7.98,720],[8.1,680],[8.2,650],[8.37,650],[8.5,720],[8.6,700],[8.67,760],[8.8,650],[8.9,620],[8.99,600],[9.1,480],[9.22,400],[9.36,375],[9.47,1350],[9.52,1000]];
const vsUpper2 = [[9.72,700],[9.85,650],[9.95,610],[10.05,560],[10.2,600],[10.3,620],[10.43,600],[10.5,640],[10.65,620],[10.8,600],[10.9,560],[11.0,560],[11.15,500],[11.3,470],[11.45,430],[11.6,400],[11.7,370],[11.8,345],[11.9,340],[12.0,330],[12.1,290],[12.2,285],[12.3,270],[12.4,255],[12.5,230],[12.6,215],[12.7,190],[12.8,165]];
const vsLower2 = [[9.72,560],[9.8,480],[9.9,420],[10.05,400],[10.2,430],[10.35,380],[10.5,320],[10.66,325],[10.8,290],[10.96,275],[11.1,300],[11.25,320],[11.4,330],[11.55,310],[11.7,320],[11.8,315],[11.95,300],[12.1,255],[12.2,250],[12.3,220],[12.45,170],[12.55,140],[12.65,117],[12.72,125],[12.8,115]];

const stMedian = [[-1.25,5800],[-1.1,6200],[-1.0,6300],[-0.8,6500],[-0.6,6600],[-0.4,6600],[-0.2,6800],[0.0,6800],[0.14,6900],[0.35,6700],[0.6,6600],[0.8,6500],[1.0,6300],[1.2,6000],[1.4,5700],[1.6,5400],[1.8,5100],[2.0,4900],[2.27,4600],[2.45,4600],[2.6,4500],[2.75,4500],[2.88,4300],[3.05,3800],[3.2,3400],[3.4,2900],[3.57,2450],[3.75,2150],[3.9,1900],[4.1,1650],[4.32,1470],[4.45,1200],[4.6,950],[4.71,850],[4.8,720],[4.87,690],[4.95,740],[5.05,760],[5.15,700],[5.24,800],[5.35,720],[5.47,520],[5.55,450],[5.65,400],[5.75,330],[5.86,290],[5.95,250],[6.05,220],[6.15,185],[6.24,165],[6.3,180],[6.35,150],[6.45,130],[6.55,150],[6.6,135]];
const stUpper = [[-5.2,900],[-5.0,1300],[-4.5,2500],[-4.0,4500],[-3.5,7500],[-3.0,9800],[-2.8,10300],[-2.5,10800],[-2.15,11200],[-1.8,11000],[-1.5,10900],[-1.2,11000],[-1.0,11000],[-0.5,10800],[0.14,10700],[0.5,10300],[0.8,9800],[1.2,9100],[1.67,8300],[2.0,7700],[2.3,7200],[2.6,6800],[2.81,6500],[3.1,5200],[3.34,4300],[3.6,3500],[3.95,2700],[4.2,2100],[4.48,1660],[4.71,1350],[4.9,1200],[5.1,1100],[5.3,950],[5.47,850],[5.65,650],[5.86,490],[6.05,380],[6.24,310],[6.4,260],[6.5,230],[6.55,260],[6.6,180]];
const stLower = [[-5.2,700],[-5.1,900],[-5.0,1150],[-4.9,1300],[-4.8,1250],[-4.67,1550],[-4.55,1500],[-4.44,1700],[-4.3,1750],[-4.2,1950],[-4.05,1900],[-3.9,2200],[-3.75,2400],[-3.6,2600],[-3.45,2900],[-3.36,3150],[-3.25,2850],[-3.13,2700],[-3.0,2200],[-2.84,1750],[-2.5,2000],[-2.0,2200],[-1.0,2200],[0,2000],[1.0,1600],[1.67,1200],[2.04,1000],[2.42,900],[2.81,800],[3.11,900],[3.3,700],[3.5,480],[3.8,450],[4.1,490],[4.2,400],[4.32,310],[4.45,420],[4.55,440],[4.65,300],[4.78,180],[4.9,260],[5.05,380],[5.17,440],[5.3,400],[5.47,350],[5.6,330],[5.75,280],[5.86,250],[6.0,200],[6.1,220],[6.24,165],[6.4,140],[6.5,110],[6.6,95]];

const moMedian = [[-7.37,135],[-7.3,160],[-7.2,175],[-7.1,220],[-7.0,260],[-6.95,290],[-6.85,300],[-6.75,270],[-6.65,320],[-6.55,300],[-6.45,350],[-6.4,370],[-6.3,450],[-6.2,490],[-6.1,850],[-6.0,1270],[-5.85,1600],[-5.72,1900],[-5.55,2300],[-5.4,2500],[-5.2,3000],[-5.03,3500],[-4.85,3900],[-4.67,4300],[-4.5,4700],[-4.3,5000],[-4.1,5500],[-3.89,6000],[-3.7,6600],[-3.55,6900],[-3.45,7500],[-3.36,8000],[-3.28,7000],[-3.2,7300],[-3.06,6900],[-2.95,5800],[-2.84,4600],[-2.77,5200],[-2.65,5000],[-2.5,4500],[-2.38,4300],[-2.2,4400],[-2.0,4000],[-1.8,3900],[-1.6,3700],[-1.4,3400],[-1.14,2900],[-1.0,2900],[-0.8,3100],[-0.62,3000],[-0.39,3300],[-0.1,3400],[0.14,3500],[0.4,3400],[0.7,3300],[0.9,3000],[1.1,2700],[1.3,2500],[1.51,2200],[1.7,1850],[1.85,1650],[1.97,1470],[2.05,1350],[2.12,1270],[2.4,1100],[2.8,1000],[3.1,1050],[3.3,900],[3.5,950],[3.64,970],[3.75,950],[3.9,900],[4.05,780],[4.15,700],[4.25,650],[4.32,620]];
const moUpper = [[-7.37,190],[-7.25,250],[-7.1,300],[-6.95,400],[-6.8,420],[-6.65,500],[-6.5,560],[-6.34,690],[-6.2,950],[-6.04,1350],[-5.9,1700],[-5.72,2200],[-5.55,2700],[-5.42,3000],[-5.25,3700],[-5.12,4300],[-4.9,5000],[-4.67,6000],[-4.4,7000],[-4.1,7800],[-3.89,8300],[-3.6,10000],[-3.36,11800],[-3.2,10500],[-3.0,10000],[-2.84,9600],[-2.6,8500],[-2.38,7400],[-2.15,7600],[-1.9,6900],[-1.6,6000],[-1.4,5500],[-1.14,5000],[-0.8,4800],[-0.39,4600],[0.14,4900],[0.5,4500],[0.9,3900],[1.28,3300],[1.67,2600],[2.04,1900],[2.25,1600],[2.42,1350],[2.8,1200],[3.1,1250],[3.3,1400],[3.49,1650],[3.65,1550],[3.8,1480],[3.95,1350],[4.1,1250],[4.2,1300],[4.32,1100]];
const moLower = [[-7.37,110],[-7.3,125],[-7.2,115],[-7.1,140],[-7.0,125],[-6.95,110],[-6.85,190],[-6.75,145],[-6.65,150],[-6.56,125],[-6.45,200],[-6.34,220],[-6.2,290],[-6.04,430],[-5.95,560],[-5.85,400],[-5.77,310],[-5.7,660],[-5.55,900],[-5.35,1290],[-5.2,1450],[-5.05,1600],[-4.85,1700],[-4.67,1900],[-4.5,2050],[-4.28,2200],[-4.1,2300],[-3.93,2450],[-3.7,2800],[-3.5,3100],[-3.36,3300],[-3.25,3100],[-3.13,3000],[-3.0,2500],[-2.84,1900],[-2.77,800],[-2.6,850],[-2.3,900],[-2.0,950],[-1.0,1000],[0,1100],[1.0,1050],[1.67,900],[2.04,700],[2.42,600],[2.8,350],[2.95,150],[3.05,250],[3.11,340],[3.2,380],[3.3,350],[3.5,420],[3.65,470],[3.8,400],[3.95,330],[4.05,420],[4.15,300],[4.25,230],[4.32,200]];

const wkMedian = [[-3.36,390],[-3.3,480],[-3.2,560],[-3.1,650],[-3.0,600],[-2.9,520],[-2.84,460],[-2.75,650],[-2.65,800],[-2.55,900],[-2.45,980],[-2.35,900],[-2.22,850],[-2.1,820],[-2.0,800],[-1.9,850],[-1.75,900],[-1.6,870],[-1.5,920],[-1.38,880],[-1.23,1030],[-1.1,1000],[-0.95,1100],[-0.8,1080],[-0.6,1200],[-0.39,1350],[-0.25,1450],[-0.1,1550],[0.14,1660],[0.4,1650],[0.6,1600],[0.9,1450],[1.1,1350],[1.28,1270],[1.5,1080],[1.65,950],[1.81,850],[1.95,700],[2.04,650],[2.15,720],[2.27,700],[2.42,980],[2.55,920],[2.7,980],[2.81,990],[2.95,1300],[3.05,1450],[3.11,1660],[3.18,1780],[3.28,1400],[3.35,1350],[3.45,950],[3.57,690],[3.7,470],[3.8,325],[3.88,250],[3.95,177],[4.03,127]];
const wkUpper = [[-3.36,850],[-3.3,800],[-3.2,900],[-3.13,980],[-3.0,850],[-2.9,900],[-2.8,800],[-2.74,1020],[-2.6,1300],[-2.5,1450],[-2.38,1650],[-2.2,1600],[-2.0,1550],[-1.6,1550],[-1.2,1650],[-0.8,1600],[-0.39,1900],[0.14,2000],[0.5,2050],[0.9,2000],[1.3,1950],[1.67,1900],[1.9,1600],[2.12,1350],[2.3,1250],[2.42,1200],[2.6,1300],[2.81,1350],[2.95,1900],[3.05,2500],[3.11,2900],[3.2,2400],[3.3,1900],[3.4,1400],[3.57,980],[3.7,700],[3.8,490],[3.9,330],[4.03,127]];
const wkLower = [[-3.36,175],[-3.3,240],[-3.2,490],[-3.13,300],[-3.0,230],[-2.9,370],[-2.84,440],[-2.75,400],[-2.6,300],[-2.5,260],[-2.38,250],[-2.3,350],[-2.22,490],[-2.1,380],[-2.0,310],[-1.9,400],[-1.75,350],[-1.6,290],[-1.5,250],[-1.38,190],[-1.25,230],[-1.1,290],[-0.95,360],[-0.8,470],[-0.62,650],[-0.39,900],[-0.2,1100],[0.14,1200],[0.5,1150],[0.9,1100],[1.2,900],[1.45,700],[1.67,490],[1.85,330],[2.0,250],[2.1,170],[2.2,125],[2.27,58],[2.35,130],[2.42,177],[2.55,160],[2.65,125],[2.75,90],[2.81,58],[2.9,70],[3.0,200],[3.08,600],[3.2,500],[3.35,420],[3.5,300],[3.65,220],[3.8,160],[3.95,140],[4.03,127]];

const categories = ['Very strong', 'Strong', 'Moderate', 'Weak'];

// ---------------- STYLE ----------------
const FONT = "'Liberation Sans', Arial, Helvetica, sans-serif";
const catColors = ['#5a1aa2', '#8e0f12', '#ff8c00', '#127012'];
const catFills = ['#d9cde8', '#dfc1c2', '#fee3c6', '#c9e1c9'];
const VIRIDIS = ['#440154','#482475','#414487','#355f8d','#2a788e','#21918c','#22a884','#44bf70','#7ad151','#bddf26','#fde725'];
function hexRgb(h){ return [parseInt(h.slice(1,3),16), parseInt(h.slice(3,5),16), parseInt(h.slice(5,7),16)]; }
function viridis(f){
  f = Math.max(0, Math.min(1, f));
  const n = VIRIDIS.length - 1;
  const i = Math.min(n - 1, Math.floor(f * n));
  const r = f * n - i;
  const a = hexRgb(VIRIDIS[i]), b = hexRgb(VIRIDIS[i + 1]);
  return 'rgb(' + a.map((v, k) => Math.round(v + (b[k] - v) * r)).join(',') + ')';
}
const btMin = btTicks[0], btMax = btTicks[btTicks.length - 1];
function btColor(bt){ return viridis((btMax - bt) / (btMax - btMin)); }

const minorLogTicks = [];
[10, 100, 1000, 10000].forEach(d => { for (let m = 2; m <= 9; m++) minorLogTicks.push(m * d); });

function expLabel(v){
  const e = Math.log10(v); const r = Math.round(e);
  return Math.abs(e - r) < 1e-6 ? '10{sup|' + r + '}' : '';
}
const supRich = { sup: { fontSize: 23, fontFamily: FONT, color: '#000', padding: [0, 0, 26, 0], verticalAlign: 'top' } };

function xAxisDef(grid, pos, withLabels, name){
  return {
    type: 'value', gridIndex: grid, position: pos, min: timeTicks[0], max: timeTicks[timeTicks.length - 1],
    interval: timeTicks[1] - timeTicks[0], z: 20,
    axisLine: { show: true, onZero: false, lineStyle: { color: '#000', width: 2 } },
    axisTick: { show: true, inside: true, length: 12, lineStyle: { color: '#000', width: 1.5 } },
    minorTick: { show: true, splitNumber: 5, length: 7, lineStyle: { color: '#000', width: 1.5 } },
    axisLabel: { show: withLabels, fontSize: 37, fontFamily: FONT, color: '#000', margin: 14 },
    splitLine: { show: false },
    name: name || '', nameLocation: 'middle', nameGap: 64,
    nameTextStyle: { fontSize: 37, fontFamily: FONT, color: '#000',
      rich: { i: { fontStyle: 'italic', fontSize: 37, fontFamily: FONT, color: '#000' } } }
  };
}
function yAxisDef(grid, pos, withLabels){
  return {
    type: 'log', logBase: 10, gridIndex: grid, position: pos, min: areaMin, max: areaMax, z: 20,
    axisLine: { show: true, onZero: false, lineStyle: { color: '#000', width: 2 } },
    axisTick: { show: true, inside: true, length: 20, lineStyle: { color: '#000', width: 1.5 } },
    minorTick: { show: false },
    axisLabel: { show: withLabels, fontSize: 37, fontFamily: FONT, color: '#000', margin: 12, formatter: expLabel, rich: supRich },
    splitLine: { show: false },
    name: withLabels ? 'Spatial extension / km{sup|2}' : '', nameLocation: 'middle', nameGap: 93, nameRotate: 90,
    nameTextStyle: { fontSize: 37, fontFamily: FONT, color: '#000', rich: supRich }
  };
}

function minorTickSeries(xi, yi){
  return {
    type: 'custom', xAxisIndex: xi, yAxisIndex: yi, silent: true, z: 21, clip: false,
    data: minorLogTicks.map(v => [timeTicks[0], v]),
    renderItem: (params, api) => {
      const cs = params.coordSys;
      const y = api.coord([api.value(0), api.value(1)])[1];
      if (y < cs.y - 0.5 || y > cs.y + cs.height + 0.5) return null;
      return { type: 'group', children: [
        { type: 'line', shape: { x1: cs.x, y1: y, x2: cs.x + 10, y2: y }, style: { stroke: '#000', lineWidth: 1.5 } },
        { type: 'line', shape: { x1: cs.x + cs.width - 10, y1: y, x2: cs.x + cs.width, y2: y }, style: { stroke: '#000', lineWidth: 1.5 } }
      ] };
    }
  };
}
function bandSeries(uppers, lowers, fill, z){
  return {
    type: 'custom', xAxisIndex: 3, yAxisIndex: 3, silent: true, clip: true, z: z,
    data: uppers.map(() => [0, 1000]),
    renderItem: (params, api) => {
      const up = uppers[params.dataIndex], lo = lowers[params.dataIndex];
      const pts = up.map(p => api.coord(p)).concat(lo.slice().reverse().map(p => api.coord(p)));
      return { type: 'polygon', shape: { points: pts }, style: { fill: fill, stroke: '#1a1a1a', lineWidth: 1.2 } };
    }
  };
}
function medianSeries(data, color, z){
  return { type: 'line', xAxisIndex: 3, yAxisIndex: 3, data: data, showSymbol: false, symbol: 'none',
    silent: true, z: z, lineStyle: { color: color, width: 3.2 }, connectNulls: false };
}

const series = [];
// colour bar
series.push({
  type: 'custom', xAxisIndex: 0, yAxisIndex: 0, silent: true, z: 2,
  data: [[btMin, 0, btMax, 1]],
  renderItem: (params, api) => {
    const p0 = api.coord([api.value(0), api.value(1)]);
    const p1 = api.coord([api.value(2), api.value(3)]);
    const stops = VIRIDIS.map((c, i) => ({ offset: i / (VIRIDIS.length - 1), color: VIRIDIS[VIRIDIS.length - 1 - i] }));
    return { type: 'rect', shape: { x: p0[0], y: p1[1], width: p1[0] - p0[0], height: p0[1] - p1[1] },
      style: { fill: new echarts.graphic.LinearGradient(0, 0, 1, 0, stops), stroke: '#000', lineWidth: 3 } };
  }
});
// panel (a)
tracks.forEach((pts, i) => {
  series.push({ type: 'line', xAxisIndex: 1, yAxisIndex: 1, data: pts, showSymbol: false, symbol: 'none',
    silent: true, z: 3, lineStyle: { color: btColor(tracksBT[i]), width: 3 }, connectNulls: false });
});
// panel (b)
series.push(bandSeries([vsUpper1, vsUpper2], [vsLower1, vsLower2], catFills[0], 4));
series.push(medianSeries(vsMedian, catColors[0], 5));
series.push(bandSeries([stUpper], [stLower], catFills[1], 6));
series.push(medianSeries(stMedian, catColors[1], 7));
series.push(bandSeries([moUpper], [moLower], catFills[2], 8));
series.push(medianSeries(moMedian, catColors[2], 9));
series.push(bandSeries([wkUpper], [wkLower], catFills[3], 10));
series.push(medianSeries(wkMedian, catColors[3], 11));
series.push(minorTickSeries(1, 1));
series.push(minorTickSeries(3, 3));

const option = {
  animation: false,
  backgroundColor: '#fff',
  textStyle: { fontFamily: FONT },
  grid: [
    { left: 157, top: 118, width: 1093, height: 52 },
    { left: 157, top: 196, width: 1093, height: 364 },
    { left: 157, top: 645, width: 1093, height: 363 }
  ],
  xAxis: [
    { type: 'value', gridIndex: 0, position: 'top', min: btMin, max: btMax, interval: btTicks[1] - btTicks[0], z: 20,
      axisLine: { show: true, onZero: false, lineStyle: { color: '#000', width: 3 } },
      axisTick: { show: true, inside: false, length: 12, lineStyle: { color: '#000', width: 2 } },
      minorTick: { show: true, splitNumber: 5, length: 6, lineStyle: { color: '#000', width: 1.5 } },
      axisLabel: { fontSize: 37, fontFamily: FONT, color: '#000', margin: 18 },
      splitLine: { show: false } },
    xAxisDef(1, 'bottom', true),
    xAxisDef(1, 'top', false),
    xAxisDef(2, 'bottom', true, 'Time relative to last detected convective activity {i|t} / h'),
    xAxisDef(2, 'top', false)
  ],
  yAxis: [
    { type: 'value', gridIndex: 0, min: 0, max: 1, show: false },
    yAxisDef(1, 'left', true),
    yAxisDef(1, 'right', false),
    yAxisDef(2, 'left', true),
    yAxisDef(2, 'right', false)
  ],
  graphic: [
    { type: 'text', left: 604, top: 13, style: { text: 'BT', font: '39px ' + FONT, fill: '#000' } },
    { type: 'text', left: 661, top: 3, style: { text: 'min', font: '22px ' + FONT, fill: '#000' } },
    { type: 'text', left: 661, top: 39, style: { text: '10.8µm', font: '22px ' + FONT, fill: '#000' } },
    { type: 'text', left: 745, top: 13, style: { text: '/ K', font: '39px ' + FONT, fill: '#000' } },
    { type: 'text', left: 174, top: 234, z: 30, style: { text: '(a)', font: '44px ' + FONT, fill: '#000' } },
    { type: 'text', left: 174, top: 683, z: 30, style: { text: '(b)', font: '44px ' + FONT, fill: '#000' } },
    { type: 'text', right: 70, top: 665, z: 30, style: { text: categories[0], font: '29px ' + FONT, fill: catColors[0] } },
    { type: 'text', right: 70, top: 694, z: 30, style: { text: categories[1], font: '29px ' + FONT, fill: catColors[1] } },
    { type: 'text', right: 70, top: 723, z: 30, style: { text: categories[2], font: '29px ' + FONT, fill: catColors[2] } },
    { type: 'text', right: 70, top: 751, z: 30, style: { text: categories[3], font: '29px ' + FONT, fill: catColors[3] } }
  ],
  series: series
};
const chart = echarts.init(document.getElementById('chart'), null, { renderer: 'canvas' });
chart.setOption(option);
</script></body></html>
